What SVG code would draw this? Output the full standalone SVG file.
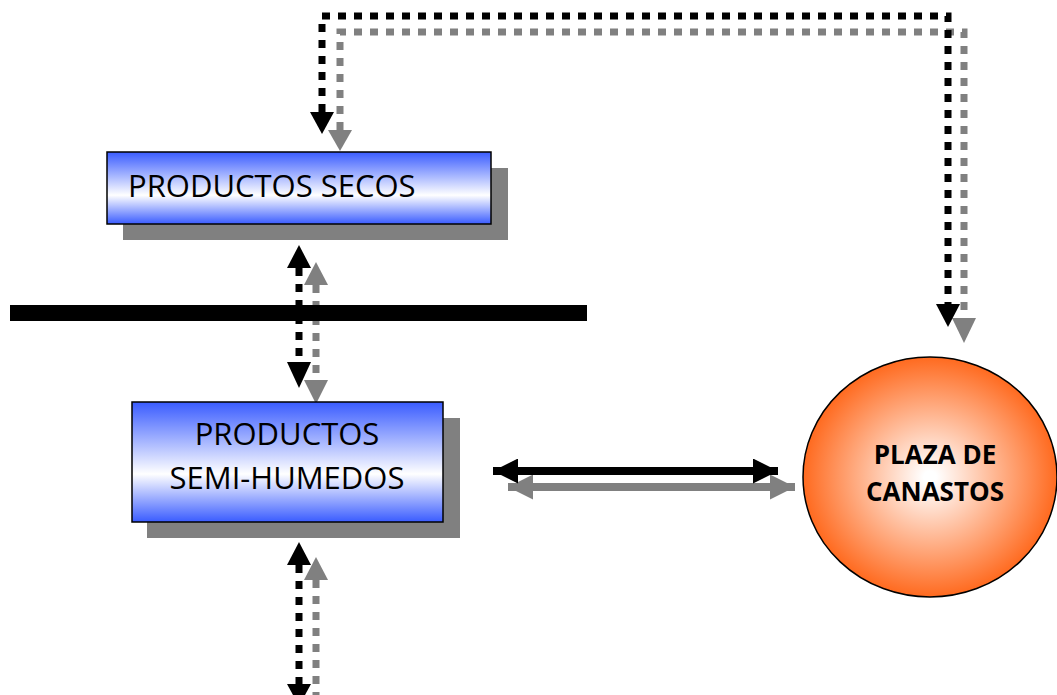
<svg xmlns="http://www.w3.org/2000/svg" width="1057" height="695" viewBox="0 0 1057 695">
<defs>
<linearGradient id="blueGrad" x1="0" y1="0" x2="0" y2="1">
<stop offset="0" stop-color="#3a5cff"/>
<stop offset="0.6" stop-color="#ffffff"/>
<stop offset="1" stop-color="#3a5cff"/>
</linearGradient>
<radialGradient id="orangeGrad" cx="0.5" cy="0.5" r="0.5">
<stop offset="0.05" stop-color="#ffffff"/>
<stop offset="1" stop-color="#ff6a1f"/>
</radialGradient>
<marker id="ahB" viewBox="0 0 10 10" refX="10" refY="5" markerWidth="25" markerHeight="25" markerUnits="userSpaceOnUse" orient="auto-start-reverse"><path d="M0,0 L10,5 L0,10 Z" fill="#000"/></marker>
<marker id="ahG" viewBox="0 0 10 10" refX="10" refY="5" markerWidth="25" markerHeight="25" markerUnits="userSpaceOnUse" orient="auto-start-reverse"><path d="M0,0 L10,5 L0,10 Z" fill="#808080"/></marker>
</defs>
<style>
.box{stroke:#000;stroke-width:1.5;fill:url(#blueGrad)}
.shadow{fill:#808080}
.t{font-family:"Open Sans","Liberation Sans",sans-serif;font-size:31px;fill:#000}
.tb{font-family:"Open Sans","Liberation Sans",sans-serif;font-size:26px;font-weight:bold;fill:#000}
.dB{fill:none;stroke:#000;stroke-width:7;stroke-dasharray:8 8}
.dG{fill:none;stroke:#808080;stroke-width:7;stroke-dasharray:8 8}
</style>
<g id="connectors">
<path class="dG" d="M340,130 V32 H964 V320" />
<path d="M328,130 L340,151 L352,130 Z" fill="#808080"/>
<path d="M952,318 L964,343 L976,318 Z" fill="#808080"/>
<path class="dB" d="M322,112 V16 H948 V304" />
<path d="M310,112 L322,134 L334,112 Z" fill="#000"/>
<path d="M936,304 L948,327 L960,304 Z" fill="#000"/>
<path class="dG" d="M316,285 V380" />
<path d="M304,285 L316,262 L328,285 Z" fill="#808080"/>
<path d="M304,380 L316,404 L328,380 Z" fill="#808080"/>
<path class="dB" d="M299,268 V362" />
<path d="M287,268 L299,245 L311,268 Z" fill="#000"/>
<path d="M287,362 L299,388 L311,362 Z" fill="#000"/>
<path class="dG" d="M316,580 V695" />
<path d="M304,580 L316,557 L328,580 Z" fill="#808080"/>
<path class="dB" d="M299,565 V684" />
<path d="M287,565 L299,542 L311,565 Z" fill="#000"/>
<path d="M287,684 L299,706 L311,684 Z" fill="#000"/>
<line x1="508" y1="487" x2="795" y2="487" stroke="#808080" stroke-width="8" marker-start="url(#ahG)" marker-end="url(#ahG)"/>
<line x1="493" y1="471" x2="778" y2="471" stroke="#000" stroke-width="8" marker-start="url(#ahB)" marker-end="url(#ahB)"/>
</g>
<g id="barrier">
<rect x="10" y="305" width="577" height="16" fill="#000"/>
</g>
<g id="secos">
<rect class="shadow" x="123" y="168" width="385" height="72"/>
<rect class="box" x="107" y="152" width="384" height="72"/>
<text class="t" x="128" y="197">PRODUCTOS SECOS</text>
</g>
<g id="semihumedos">
<rect class="shadow" x="147" y="418" width="313" height="120"/>
<rect class="box" x="132" y="402" width="311" height="120"/>
<text class="t" x="287" y="445" text-anchor="middle">PRODUCTOS</text>
<text class="t" x="287" y="489" text-anchor="middle">SEMI-HUMEDOS</text>
</g>
<g id="plaza">
<ellipse cx="930" cy="477" rx="127" ry="120" fill="url(#orangeGrad)" stroke="#000" stroke-width="1.5"/>
<text class="tb" x="935" y="464" text-anchor="middle">PLAZA DE</text>
<text class="tb" x="935" y="501" text-anchor="middle">CANASTOS</text>
</g>
</svg>
